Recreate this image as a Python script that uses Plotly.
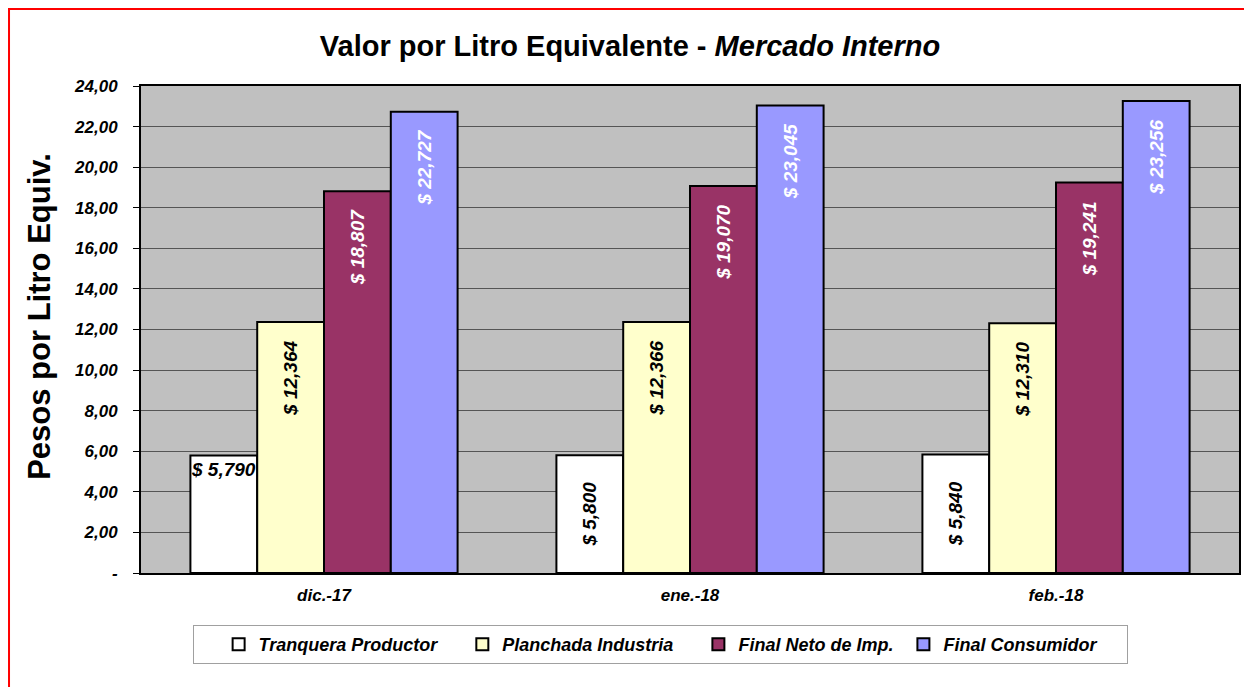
import plotly.graph_objects as go

categories = ["dic.-17", "ene.-18", "feb.-18"]
series_names = ["Tranquera Productor", "Planchada Industria", "Final Neto de Imp.", "Final Consumidor"]
tranquera = [5.790, 5.800, 5.840]
planchada = [12.364, 12.366, 12.310]
neto = [18.807, 19.070, 19.241]
consumidor = [22.727, 23.045, 23.256]
y_ticks = [0, 2, 4, 6, 8, 10, 12, 14, 16, 18, 20, 22, 24]
y_ticktext = ["-", "2,00", "4,00", "6,00", "8,00", "10,00", "12,00", "14,00", "16,00", "18,00", "20,00", "22,00", "24,00"]

colors = ["#FFFFFF", "#FFFFCC", "#993366", "#9999FF"]
text_colors = ["#000000", "#000000", "#FFFFFF", "#FFFFFF"]
anchors = ["middle", "end", "end", "end"]
legend_pad = [4, 4, 1, 5]
FONT = "Liberation Sans, Arial, sans-serif"
NB = "\u00a0"


def fmt(v):
    return "$ " + f"{v:.3f}".replace(".", ",")


fig = go.Figure()
all_series = [tranquera, planchada, neto, consumidor]
for i, (name, vals) in enumerate(zip(series_names, all_series)):
    pad = NB * 3 if anchors[i] == "end" else ""
    texts = [fmt(v) + pad for v in vals]
    if i == 0:
        texts[0] = ""  # shown horizontally via annotation
    fig.add_trace(go.Bar(
        name=name + NB * legend_pad[i], x=categories, y=vals,
        marker=dict(color=colors[i], line=dict(color="#000000", width=2)),
        text=texts, textposition="inside", textangle=-90,
        insidetextanchor=anchors[i],
        insidetextfont=dict(family=FONT, size=19, color=text_colors[i], weight="bold", style="italic"),
        cliponaxis=False,
        hoverinfo="skip",
    ))

fig.add_annotation(
    x=categories[0], y=tranquera[0], xref="x", yref="y",
    text=fmt(tranquera[0]), showarrow=False, xshift=-101, yanchor="top", yshift=-1,
    font=dict(family=FONT, size=19, color="#000000", weight="bold", style="italic"),
)

# y-axis title
fig.add_annotation(
    x=-0.092, y=0.528, xref="paper", yref="paper", textangle=-90,
    text="<b>Pesos por Litro Equiv.</b>", showarrow=False,
    xanchor="center", yanchor="middle",
    font=dict(family=FONT, size=31, color="#000000"),
)

# red outer frame
fig.add_shape(type="rect", xref="paper", yref="paper",
              x0=-0.1202, x1=1.0100, y0=-0.26, y1=1.158,
              line=dict(color="#FF0000", width=2), fillcolor="rgba(0,0,0,0)", layer="below")

fig.update_layout(
    width=1244, height=679,
    margin=dict(l=133, r=13, t=78, b=114),
    paper_bgcolor="#FFFFFF", plot_bgcolor="#C0C0C0",
    barmode="group", bargap=0.27, bargroupgap=0,
    title=dict(text="<b>Valor por Litro Equivalente - <i>Mercado Interno</i></b>",
               x=0.5, xanchor="center", y=0.944, yanchor="middle",
               font=dict(family=FONT, size=29, color="#000000")),
    font=dict(family=FONT, color="#000000"),
    legend=dict(orientation="h", x=0.047, xanchor="left", y=-0.107, yanchor="top",
                bordercolor="#A0A0A0", borderwidth=1, bgcolor="#FFFFFF",
                font=dict(family=FONT, size=18, weight="bold", style="italic"),
                title=dict(text=NB * 3, side="left", font=dict(family=FONT, size=18)),
                itemwidth=30, traceorder="normal"),
    showlegend=True,
)
fig.update_xaxes(showline=True, linecolor="#000000", linewidth=2, mirror=True,
                 tickfont=dict(family=FONT, size=17, weight="bold", style="italic"),
                 ticks="", ticklabelstandoff=6)
fig.update_yaxes(range=[0, 24], tickvals=y_ticks, ticktext=y_ticktext,
                 showline=True, linecolor="#000000", linewidth=2, mirror=True,
                 showgrid=True, gridcolor="#555555", gridwidth=1,
                 ticks="outside", ticklen=6, tickcolor="#000000",
                 ticklabelstandoff=12,
                 tickfont=dict(family=FONT, size=17, weight="bold", style="italic"),
                 zeroline=False)

fig.write_html("out.html")
